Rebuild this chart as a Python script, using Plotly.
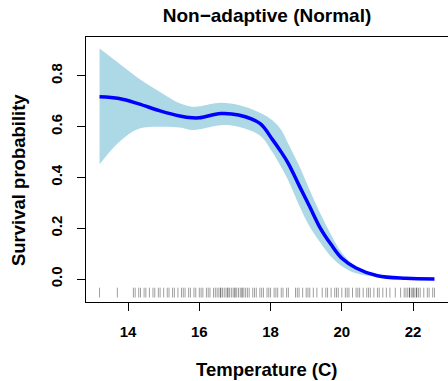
import plotly.graph_objects as go

# Smoothed survival curve
temp = [13.2, 13.75, 14.3, 14.9, 15.45, 15.8, 16.0, 16.6, 17.1, 17.7, 18.05,
        18.3, 18.5, 18.8, 19.1, 19.4, 19.7, 20.0, 20.4, 21.0, 21.8, 22.6]
surv_mean = [0.718, 0.711, 0.690, 0.662, 0.642, 0.635, 0.635, 0.652, 0.646, 0.613, 0.550,
             0.500, 0.455, 0.369, 0.285, 0.200, 0.136, 0.082, 0.044, 0.013, 0.003, 0.001]
surv_upper = [0.908, 0.849, 0.790, 0.737, 0.692, 0.678, 0.680, 0.694, 0.685, 0.655, 0.625,
              0.587, 0.532, 0.447, 0.350, 0.257, 0.174, 0.104, 0.050, 0.018, 0.005, 0.002]
surv_lower = [0.452, 0.540, 0.592, 0.600, 0.597, 0.587, 0.590, 0.606, 0.600, 0.565, 0.500,
              0.440, 0.387, 0.291, 0.206, 0.143, 0.088, 0.051, 0.023, 0.008, 0.001, 0.000]

# Observed temperatures (rug)
rug_temp = [13.2, 13.7,
            14.15, 14.2, 14.3, 14.35, 14.45, 14.5, 14.6, 14.7, 14.75, 14.85, 14.9, 15.0,
            15.1, 15.15, 15.25, 15.3, 15.4, 15.5, 15.55, 15.6, 15.7, 15.75, 15.85, 15.9,
            16.0, 16.05, 16.1, 16.2, 16.25, 16.3, 16.4, 16.45, 16.5, 16.55, 16.6, 16.6,
            16.65, 16.7, 16.75, 16.8, 16.8, 16.85, 16.9, 16.95, 17.0, 17.0, 17.05, 17.1,
            17.15, 17.2, 17.2, 17.25, 17.3, 17.35, 17.4, 17.5, 17.55, 17.6, 17.7, 17.75,
            17.8, 17.9, 17.95, 18.0, 18.1, 18.15, 18.2, 18.3, 18.35, 18.45, 18.5,
            18.7, 18.75, 18.8, 18.9, 19.0, 19.05, 19.1, 19.2, 19.3,
            19.45,
            19.55, 19.6, 19.7, 19.8, 19.85, 19.9, 20.0, 20.1, 20.15, 20.2, 20.3, 20.4,
            20.45, 20.5, 20.6, 20.7, 20.75, 20.8, 20.9, 21.0, 21.05, 21.15, 21.25,
            21.35, 21.5,
            21.65, 21.75, 21.8, 21.85, 21.9, 21.9, 21.95, 22.0, 22.0, 22.05, 22.1, 22.1,
            22.15, 22.2, 22.3, 22.4, 22.45, 22.55, 22.6]
rug_level = -0.053

x_ticks = [14, 16, 18, 20, 22]
y_ticks = [0.0, 0.2, 0.4, 0.6, 0.8]
y_ticklabels = ["0.0", "0.2", "0.4", "0.6", "0.8"]

FONT = "Liberation Sans"
RUG_COLOR = "rgba(0,0,0,0.38)"

fig = go.Figure()
fig.add_trace(go.Scatter(x=temp, y=surv_upper, mode="lines",
                         line=dict(width=0, shape="spline", color="#ADD8E6"),
                         hoverinfo="skip", showlegend=False))
fig.add_trace(go.Scatter(x=temp, y=surv_lower, mode="lines", fill="tonexty",
                         fillcolor="#ADD8E6",
                         line=dict(width=0, shape="spline", color="#ADD8E6"),
                         hoverinfo="skip", showlegend=False))
fig.add_trace(go.Scatter(x=temp, y=surv_mean, mode="lines",
                         line=dict(width=3.5, shape="spline", color="#0000FF"),
                         showlegend=False))
fig.add_trace(go.Scatter(x=rug_temp, y=[rug_level] * len(rug_temp), mode="markers",
                         marker=dict(symbol="line-ns-open", size=7, color=RUG_COLOR,
                                     line=dict(width=1, color=RUG_COLOR)),
                         showlegend=False))

fig.update_layout(
    width=448, height=381,
    margin=dict(l=86, r=0, t=37, b=79),
    paper_bgcolor="white", plot_bgcolor="white",
    font=dict(family=FONT, color="black"),
    title=dict(text="Non\u2212adaptive (Normal)", x=0.5, xref="paper", xanchor="center",
               y=1 - 15 / 381, yref="container", yanchor="middle",
               font=dict(family=FONT, size=19, weight="bold", color="black")),
    annotations=[
        dict(text="Temperature (C)", xref="paper", yref="paper", x=0.5, y=-0.253,
             xanchor="center", yanchor="middle", showarrow=False,
             font=dict(family=FONT, size=18.5, weight="bold", color="black")),
        dict(text="Survival probability", xref="paper", yref="paper", x=-0.188, y=0.46,
             xanchor="center", yanchor="middle", textangle=-90, showarrow=False,
             font=dict(family=FONT, size=18.5, weight="bold", color="black")),
    ],
)
fig.update_xaxes(range=[12.82, 22.98], tickvals=x_ticks, ticks="outside", ticklen=8,
                 tickcolor="black", showline=True, linecolor="black", linewidth=1,
                 mirror=True, showgrid=False, zeroline=False,
                 tickfont=dict(family=FONT, size=15, weight="bold"),
                 ticklabelstandoff=8)
fig.update_yaxes(range=[-0.09, 0.953], tickvals=y_ticks, ticktext=y_ticklabels,
                 ticks="outside", ticklen=8, tickcolor="black", tickangle=-90,
                 showline=True, linecolor="black", linewidth=1, mirror=True,
                 showgrid=False, zeroline=False,
                 tickfont=dict(family=FONT, size=15, weight="bold"),
                 ticklabelstandoff=9)

fig.write_html("out.html")
